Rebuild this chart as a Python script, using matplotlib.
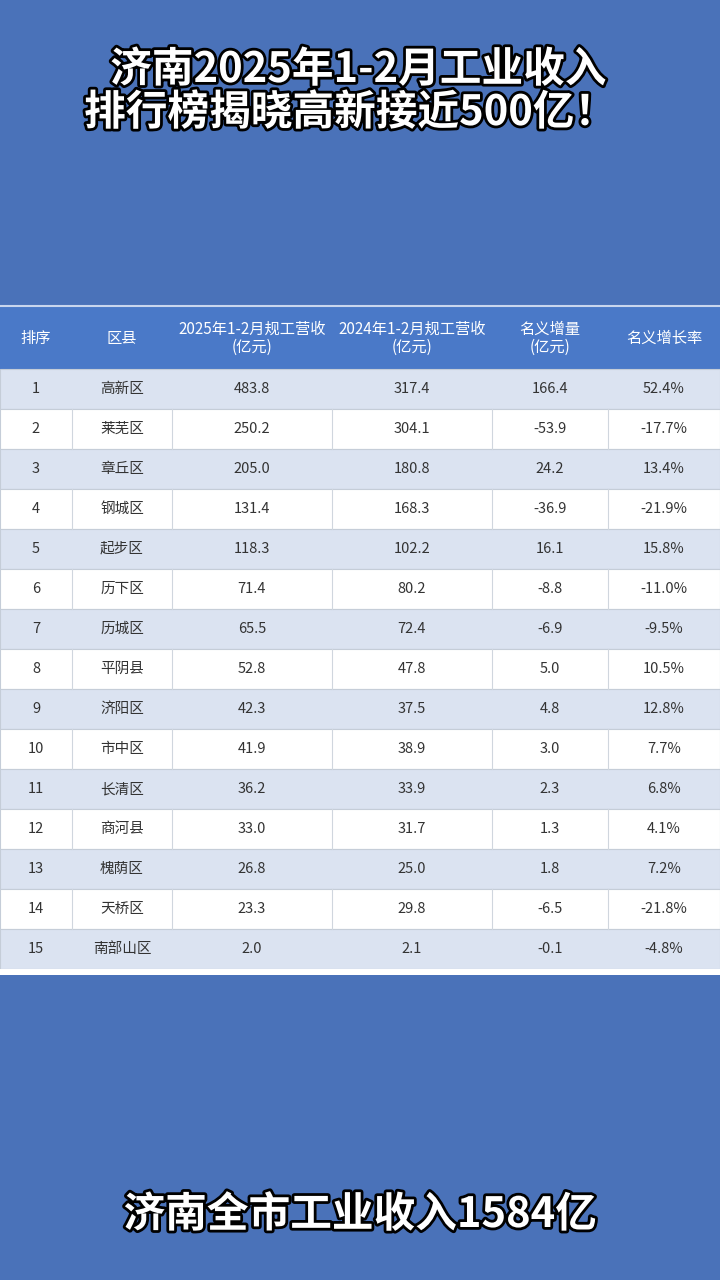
import matplotlib.pyplot as plt
import matplotlib.patheffects as pe

plt.rcParams['font.family'] = ['Noto Sans CJK SC', 'DejaVu Sans']

headers = ["排序", "区县", "2025年1-2月规工营收\n(亿元)", "2024年1-2月规工营收\n(亿元)", "名义增量\n(亿元)", "名义增长率"]
ranks = list(range(1, 16))
districts = ["高新区", "莱芜区", "章丘区", "钢城区", "起步区", "历下区", "历城区", "平阴县",
             "济阳区", "市中区", "长清区", "商河县", "槐荫区", "天桥区", "南部山区"]
rev_2025 = ["483.8", "250.2", "205.0", "131.4", "118.3", "71.4", "65.5", "52.8",
            "42.3", "41.9", "36.2", "33.0", "26.8", "23.3", "2.0"]
rev_2024 = ["317.4", "304.1", "180.8", "168.3", "102.2", "80.2", "72.4", "47.8",
            "37.5", "38.9", "33.9", "31.7", "25.0", "29.8", "2.1"]
increase = ["166.4", "-53.9", "24.2", "-36.9", "16.1", "-8.8", "-6.9", "5.0",
            "4.8", "3.0", "2.3", "1.3", "1.8", "-6.5", "-0.1"]
growth = ["52.4%", "-17.7%", "13.4%", "-21.9%", "15.8%", "-11.0%", "-9.5%", "10.5%",
          "12.8%", "7.7%", "6.8%", "4.1%", "7.2%", "-21.8%", "-4.8%"]

col_edges = [0, 72, 172, 332, 492, 608, 720]
col_centers = [(a + b) / 2 for a, b in zip(col_edges[:-1], col_edges[1:])]

fig = plt.figure(figsize=(7.2, 12.8), dpi=100)
fig.patch.set_facecolor("#4a72b9")
ax = fig.add_axes([0, 0, 1, 1])
ax.set_xlim(0, 720)
ax.set_ylim(1280, 0)
ax.axis("off")

# table body
top, header_h, row_h = 307, 62, 40
ax.barh(top + header_h / 2, 720, height=header_h, left=0, color="#4a79c8", edgecolor="none")
ax.plot([0, 720], [top - 1, top - 1], color="#c9d6ee", lw=1.5)
row_y = [top + header_h + row_h * (i + 0.5) for i in range(len(ranks))]
row_colors = ["#dbe3f1" if i % 2 == 0 else "white" for i in range(len(ranks))]
ax.barh(row_y, 720, height=row_h, left=0, color=row_colors, edgecolor="#c5cdd8", lw=0.8)
ax.barh(top + header_h + row_h * 15 + 3, 720, height=6, left=0, color="white", edgecolor="none")
for i, y in enumerate(row_y):
    if i % 2 == 1:
        for x in col_edges[1:-1]:
            ax.plot([x, x], [y - row_h / 2, y + row_h / 2], color="#d0d6de", lw=0.8)

for x, h in zip(col_centers, headers):
    ax.text(x, top + header_h / 2, h, color="white", fontsize=11, ha="center", va="center",
            linespacing=1.1, weight="medium")

columns = [[str(r) for r in ranks], districts, rev_2025, rev_2024, increase, growth]
for x, col in zip(col_centers, columns):
    for y, v in zip(row_y, col):
        ax.text(x, y, v, color="#333333", fontsize=10.5, ha="center", va="center")

outline = [pe.withStroke(linewidth=4, foreground="black")]
ax.text(358, 70, "济南2025年1-2月工业收入", color="white", fontsize=30, ha="center", va="center",
        weight="bold", path_effects=outline)
ax.text(350, 113, "排行榜揭晓高新接近500亿！", color="white", fontsize=30, ha="center", va="center",
        weight="bold", path_effects=outline)
ax.text(360, 1215, "济南全市工业收入1584亿", color="white", fontsize=30, ha="center", va="center",
        weight="bold", path_effects=outline)

fig.savefig("out.png", dpi=100, facecolor=fig.get_facecolor())
